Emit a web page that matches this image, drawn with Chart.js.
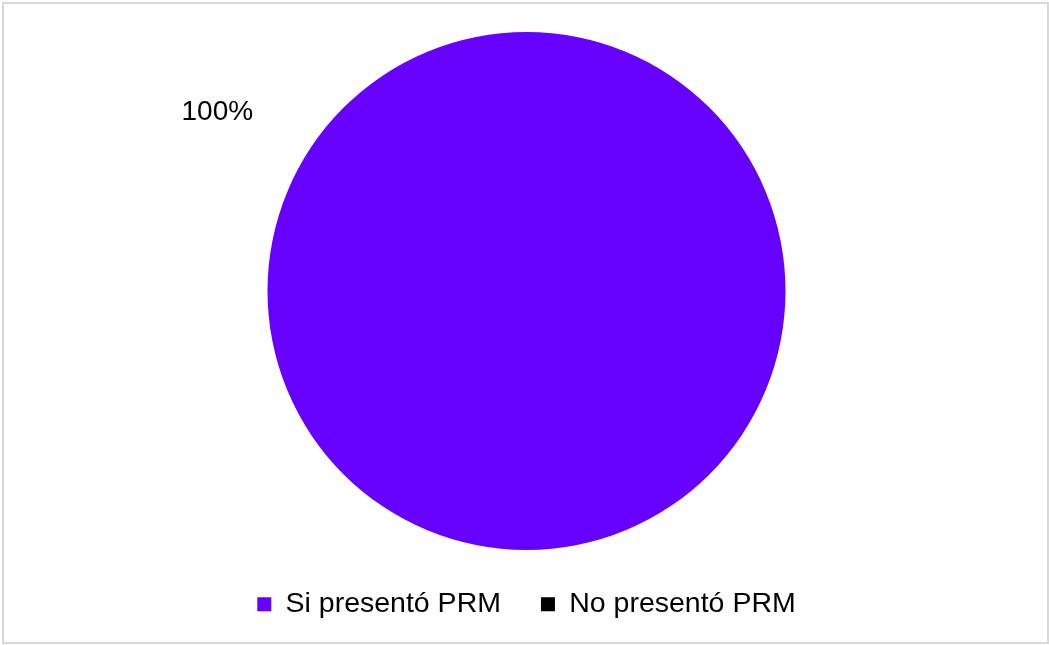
<!DOCTYPE html>
<html>
<head>
<meta charset="utf-8">
<title>PRM</title>
<script src="https://cdn.jsdelivr.net/npm/chart.js@4/dist/chart.umd.min.js"></script>
<style>
    html, body { margin: 0; padding: 0; background: #fff; }
    #frame {
        position: absolute; left: 2px; top: 2px;
        width: 1047px; height: 642px;
        box-sizing: border-box;
        border: 2px solid #d9d9d9;
    }
    #wrap { position: absolute; left: 0; top: 0; width: 1049px; height: 645px; }
</style>
</head>
<body>
<div id="frame"></div>
<div id="wrap"><canvas id="myChart" width="1049" height="645"></canvas></div>
<script>
    var categories = ['Si presentó PRM', 'No presentó PRM'];
    var values = [100, 0];
    var colors = ['#6600ff', '#000000'];

    var fontFamily = '"Liberation Sans", Arial, Helvetica, sans-serif';

    //Percentage label outside the slice, upper left
    var percentLabels = {
        id: 'percentLabels',
        afterDatasetsDraw: function(chart){
            var ctx = chart.ctx;
            var meta = chart.getDatasetMeta(0);
            var data = chart.data.datasets[0].data;
            var total = data.reduce(function(a, b){ return a + b; }, 0);
            ctx.save();
            ctx.font = '28px ' + fontFamily;
            ctx.fillStyle = '#000';
            ctx.textAlign = 'center';
            ctx.textBaseline = 'middle';
            meta.data.forEach(function(arc, i){
                if(!data[i]) return;
                var pct = Math.round(data[i] / total * 100) + '%';
                var angle = -150 * Math.PI / 180;
                var dist = arc.outerRadius + 98;
                ctx.fillText(pct, arc.x + Math.cos(angle) * dist, arc.y + Math.sin(angle) * dist);
            });
            ctx.restore();
        }
    };

    var myPieChart = new Chart(document.getElementById('myChart'), {
        type: 'pie',
        data: {
            labels: categories,
            datasets: [{
                data: values,
                backgroundColor: colors,
                borderWidth: 0
            }]
        },
        options: {
            responsive: false,
            animation: false,
            layout: {
                padding: { top: 32, bottom: 16.5, left: 4, right: 0 }
            },
            plugins: {
                tooltip: { enabled: false },
                legend: {
                    position: 'bottom',
                    labels: {
                        usePointStyle: true,
                        pointStyle: 'rect',
                        boxWidth: 14,
                        boxHeight: 14,
                        padding: 40,
                        color: '#000',
                        font: { family: fontFamily, size: 28.5 }
                    }
                }
            }
        },
        plugins: [percentLabels]
    });
</script>
</body>
</html>
